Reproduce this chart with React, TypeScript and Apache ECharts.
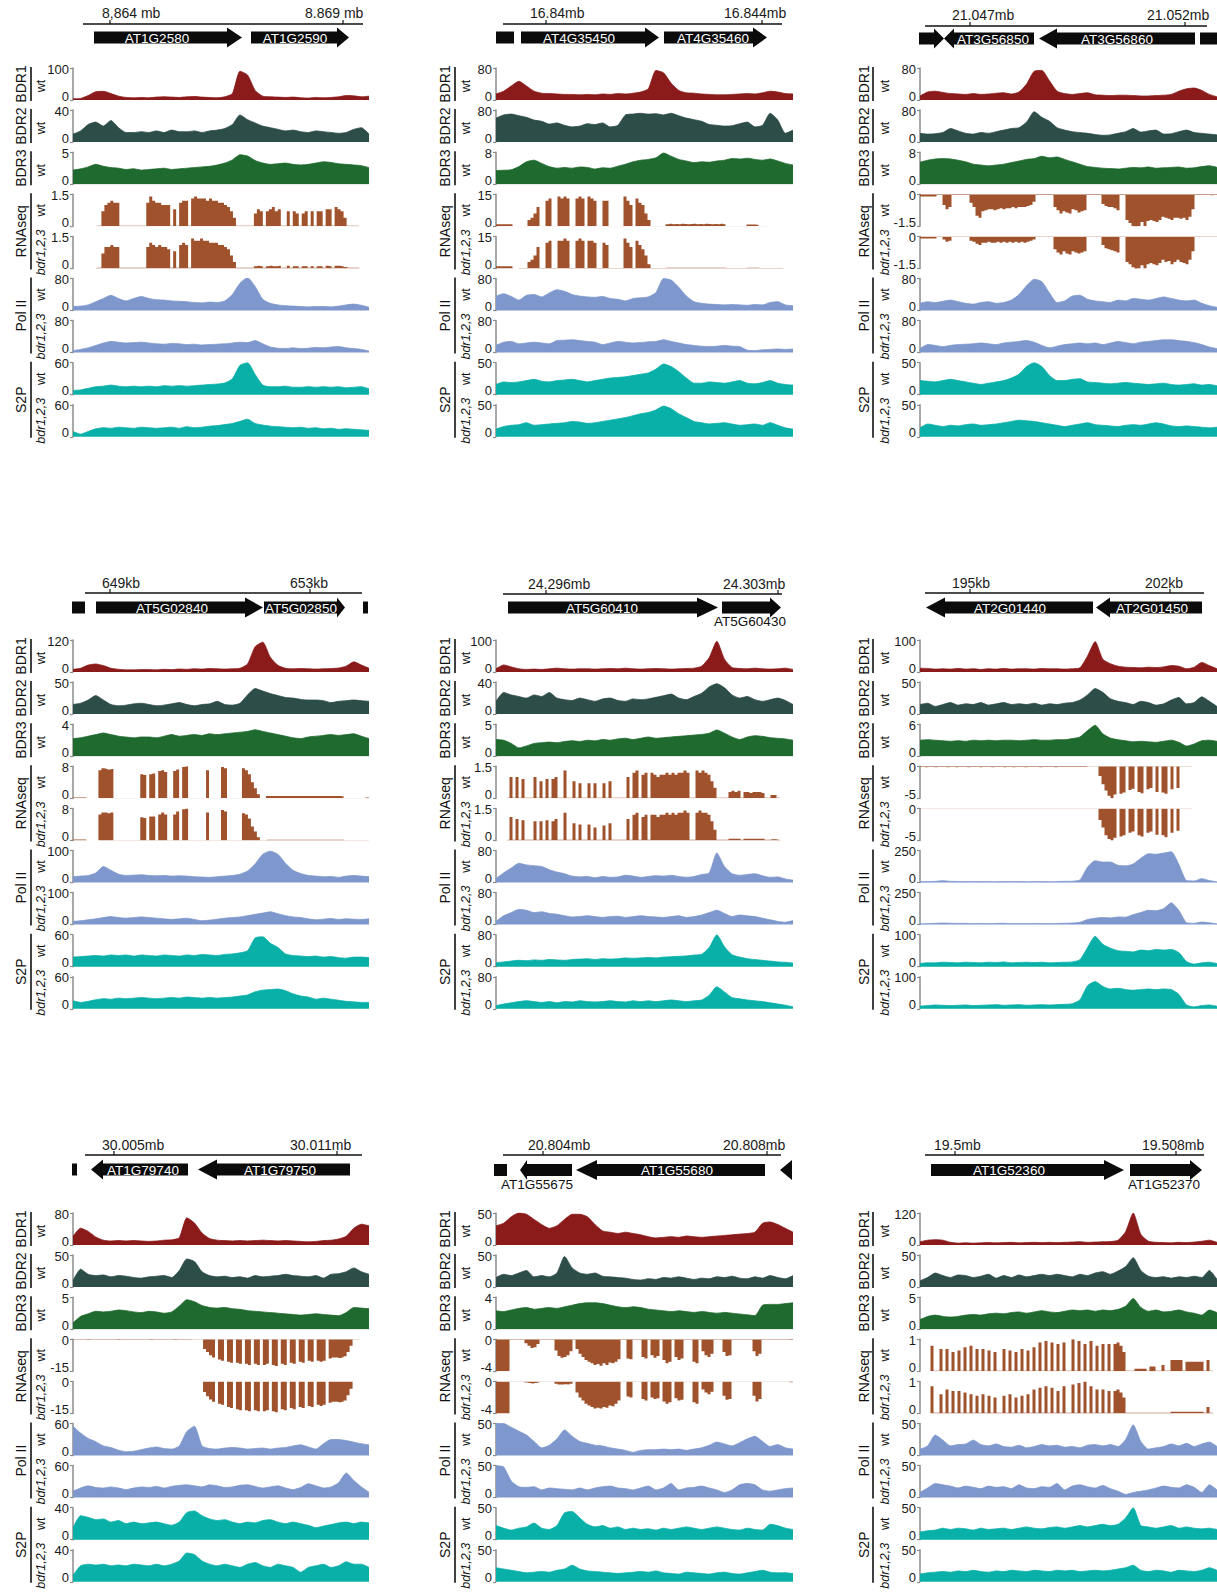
import React, { useEffect, useRef } from 'react';
import * as echarts from 'echarts';

// ================= DATA =================
// Track order in each panel: BDR1 wt, BDR2 wt, BDR3 wt, RNAseq wt, RNAseq bdr1,2,3,
// Pol II wt, Pol II bdr1,2,3, S2P wt, S2P bdr1,2,3

// ---- Panel 1 ----
const P1_BDR1 = [4,5,14,26,27,20,12,8,7,8, 7,9,10,9,8,10,11,9,8,7, 10,20,90,78,30,12,10,9,8,9, 7,6,8,7,8,10,14,13,10,12];
const P1_BDR2 = [10,14,22,25,20,27,18,12,12,13, 12,14,12,15,13,13,14,12,14,15, 17,22,34,28,24,20,18,16,14,15, 13,12,14,13,12,11,12,16,18,10];
const P1_BDR3 = [2.2,2.4,2.7,3.1,2.8,2.6,2.5,2.3,2.4,2.2, 2.3,2.4,2.5,2.3,2.4,2.5,2.6,2.7,2.8,3.0, 3.3,3.8,4.6,4.4,3.7,3.3,3.1,3.2,3.3,3.1, 3.0,3.1,3.3,3.5,3.4,3.2,3.1,3.0,2.9,2.6];
const P1_RNA_WT = [
  0,0,0,0,0,0,0,0,.03,.03,
  .7,1.0,1.1,1.2,1.1,1.1,.03,.03,.03,.03,
  .03,.03,.03,.03,.03,1.1,1.4,1.2,1.1,1.1,
  1.0,1.0,1.0,.03,.8,.03,1.1,1.2,1.2,.03,
  1.3,1.4,1.3,1.3,1.3,1.2,1.3,1.2,1.2,1.1,
  1.1,1.0,.9,.7,.4,.03,.03,.03,.03,.03,
  .03,.6,.8,.7,.03,.7,.8,.9,.7,.8,
  .03,.03,.7,.03,.7,.6,.03,.6,.7,.03,
  .7,.03,.7,.7,.03,.8,.8,.03,.9,.8,
  .7,.4,.03,.03,.03,.03,0,0,0,0];
const P1_RNA_MUT = [
  0,0,0,0,0,0,0,0,.03,.03,
  .7,1.0,1.0,1.1,1.0,1.0,.03,.03,.03,.03,
  .03,.03,.03,.03,.03,1.0,1.2,1.1,1.0,1.1,
  1.0,1.0,.9,.03,.8,.03,1.1,1.2,1.1,.03,
  1.4,1.3,1.3,1.4,1.3,1.3,1.2,1.2,1.2,1.1,
  1.1,1.0,.9,.6,.3,.03,.03,.03,.03,.03,
  .03,.1,.12,.1,.03,.1,.12,.1,.1,.12,
  .03,.03,.12,.03,.1,.1,.03,.1,.1,.03,
  .1,.03,.1,.1,.03,.12,.1,.03,.12,.12,
  .1,.06,.03,.03,.03,.03,0,0,0,0];
const P1_POL_WT = [10,11,14,22,30,38,30,24,30,35, 30,27,26,24,23,22,20,19,21,20, 24,40,68,82,60,28,18,14,12,11, 10,9,10,10,9,11,14,16,13,8];
const P1_POL_MUT = [5,8,12,18,24,28,26,24,25,26, 24,22,21,23,22,20,21,19,20,21, 22,24,26,25,30,22,14,11,10,12, 10,11,13,12,14,15,12,10,8,4];
const P1_S2P_WT = [8,9,12,15,16,18,16,15,16,15, 16,15,17,16,17,16,17,18,19,20, 22,30,55,60,38,18,15,15,16,14, 14,15,14,15,14,15,13,14,15,11];
const P1_S2P_MUT = [10,5,10,15,17,16,18,17,16,18, 17,16,17,18,16,19,17,18,20,21, 23,25,29,33,25,22,20,19,18,17, 18,16,17,15,16,14,15,14,13,12];
const P1_RANGE = [100, 40, 5, 1.5, 1.5, 80, 80, 60, 60];

// ---- Panel 2 ----
const P2_BDR1 = [15,22,35,47,35,22,17,16,15,14, 14,13,14,13,15,14,16,15,17,20, 28,74,68,42,24,18,17,15,14,13, 13,14,15,16,15,18,22,20,16,15];
const P2_BDR2 = [60,68,70,66,62,55,52,45,48,42, 38,40,46,44,48,38,42,68,70,72, 70,71,68,72,66,60,56,52,44,42, 40,41,46,50,38,42,72,55,22,30];
const P2_BDR3 = [3.4,3.5,3.6,4.4,5.6,6.0,5.2,4.4,4.0,4.2, 4.0,4.3,4.2,3.8,4.1,4.0,4.5,5.0,5.6,6.0, 6.2,6.6,7.8,7.0,6.2,5.8,5.4,5.6,5.5,5.8, 6.0,6.4,6.3,6.5,6.2,6.0,6.3,5.8,5.2,4.8];
const P2_RNA_WT = [
  1,1,1,1,1,1,0,0,.15,.15,
  .15,3,4,6,9,.15,.15,12,13,.15,
  .15,14,13,14,13,.15,.15,13,14,13,
  .15,14,13,12,.15,.15,12,12,.15,.15,
  .15,.15,.15,14,12,10,.15,13,11,10,
  6,3,.15,.15,.15,.15,.15,1,1.2,1,
  1.1,1,1.2,1.1,1,1.1,1.2,1,1.1,1,
  1.2,1.1,1,1.1,1,1.2,1,.15,.15,.15,
  .15,.15,.15,.15,.8,.9,.8,.7,.15,.15,
  .15,0,0,0,0,0,0,0,0,0];
const P2_RNA_MUT = [
  1,1,1,1,1,1,0,0,.15,.15,
  .15,3,4,6,10,.15,.15,12,13,.15,
  .15,13,13,14,13,.15,.15,13,14,13,
  .15,13,13,12,.15,.15,12,11,.15,.15,
  .15,.15,.15,14,12,10,.15,13,11,9,
  6,2,.15,.15,.15,.15,.15,.3,.3,.3,
  .3,.3,.3,.3,.3,.3,.3,.3,.3,.3,
  .3,.3,.3,.3,.3,.3,.3,.15,.15,.15,
  .15,.15,.15,.15,.25,.25,.25,.25,.15,.15,
  .15,.15,.15,.15,.15,.15,0,0,0,0];
const P2_POL_WT = [36,42,35,26,38,40,34,44,52,48, 40,36,34,33,35,30,28,24,30,32, 34,45,80,76,58,36,22,18,16,15, 14,15,14,13,15,14,20,22,14,12];
const P2_POL_MUT = [18,26,28,22,24,26,24,22,30,31, 32,30,28,26,20,24,28,26,24,25, 27,28,32,28,24,20,18,16,15,16, 18,16,15,6,5,7,8,9,8,9];
const P2_S2P_WT = [16,20,19,20,22,24,21,20,22,23, 24,22,20,22,24,26,27,28,30,32, 34,40,48,44,36,26,18,18,20,19, 18,20,22,18,17,19,22,18,16,15];
const P2_S2P_MUT = [12,16,18,19,22,18,19,20,21,22, 24,23,21,22,24,26,28,30,33,36, 38,42,48,44,36,30,24,22,20,21, 22,20,18,19,20,18,22,18,14,12];
const P2_RANGE = [80, 80, 8, 15, 15, 80, 80, 50, 50];

// ---- Panel 3 ----
const P3_BDR1 = [10,20,22,19,16,15,14,16,14,15, 17,18,15,20,40,72,74,48,22,16, 14,16,18,13,12,11,12,12,11,10, 10,11,12,14,22,28,30,24,14,8];
const P3_BDR2 = [22,20,21,24,34,28,22,20,24,22, 26,30,34,36,50,76,62,52,36,30, 26,24,22,19,17,18,22,26,34,25, 28,30,20,21,26,30,24,22,20,18];
const P3_BDR3 = [5.5,6.0,6.3,6.4,6.3,6.0,5.6,5.0,4.8,4.6, 4.8,5.0,5.4,5.8,6.2,6.4,7.0,6.6,6.8,6.2, 5.6,5.0,4.4,4.2,4.0,3.9,3.8,4.0,4.2,4.1, 4.3,4.0,4.1,4.2,4.3,4.0,4.1,4.4,4.6,4.2];
const P3_RNA_WT = [
  -.1,-.1,-.1,-.1,-.1,-.1,-.03,-.03,-.5,-.7,
  -.6,-.03,-.03,-.03,-.03,-.03,-.03,-.4,-.6,-1.0,
  -1.1,-.8,-.75,-.7,-.7,-.75,-.7,-.65,-.7,-.65,
  -.65,-.6,-.65,-.6,-.6,-.6,-.55,-.5,-.35,-.03,
  -.03,-.03,-.03,-.03,-.03,-.6,-.75,-.9,-.8,-.85,
  -.9,-.7,-.75,-.85,-.8,-.75,-.03,-.03,-.03,-.03,
  -.03,-.45,-.55,-.6,-.6,-.65,-.75,-.03,-.03,-1.2,
  -1.35,-1.5,-1.6,-1.5,-1.3,-1.5,-1.25,-1.2,-1.25,-1.3,
  -1.2,-1.05,-1.1,-1.15,-1.2,-1.1,-1.1,-1.15,-1.1,-1.2,
  -1.05,-.7,-.03,-.03,-.03,-.03,-.03,-.05,-.03,-.03];
const P3_RNA_MUT = [
  -.1,-.1,-.1,-.1,-.1,-.1,-.03,-.03,-.15,-.25,
  -.2,-.03,-.03,-.03,-.03,-.03,-.03,-.2,-.25,-.35,
  -.4,-.3,-.3,-.25,-.3,-.3,-.25,-.3,-.25,-.3,
  -.25,-.3,-.25,-.3,-.25,-.3,-.25,-.2,-.15,-.03,
  -.03,-.03,-.03,-.03,-.03,-.6,-.75,-.85,-.7,-.8,
  -.85,-.7,-.75,-.8,-.75,-.7,-.03,-.03,-.03,-.03,
  -.03,-.4,-.55,-.6,-.65,-.7,-.75,-.03,-.03,-1.2,
  -1.3,-1.45,-1.55,-1.5,-1.35,-1.5,-1.3,-1.25,-1.3,-1.35,
  -1.25,-1.1,-1.2,-1.15,-1.3,-1.2,-1.1,-1.2,-1.25,-1.3,
  -1.1,-.7,-.03,-.03,-.03,-.03,-.03,-.03,-.03,-.03];
const P3_POL_WT = [18,22,20,23,26,22,18,16,20,22, 18,20,26,40,62,78,72,44,20,24, 36,38,28,24,22,20,26,24,30,28, 26,30,34,30,26,24,26,18,12,8];
const P3_POL_MUT = [10,20,18,15,18,20,21,22,24,22, 20,24,26,28,30,26,18,12,16,20, 22,24,22,24,20,24,28,25,22,26, 28,30,32,32,30,28,25,20,14,10];
const P3_S2P_WT = [22,21,20,22,24,22,20,18,16,18, 20,22,26,32,44,50,44,30,22,22, 24,25,20,19,18,17,18,19,18,17, 16,17,18,16,15,16,17,15,16,14];
const P3_S2P_MUT = [14,20,18,16,18,17,19,20,18,19, 20,22,24,26,25,24,22,20,18,16, 18,20,22,19,18,17,16,18,19,18, 20,22,20,17,16,17,16,15,14,15];
const P3_RANGE = [80, 80, 8, -1.5, -1.5, 80, 80, 50, 50];

// ---- Panel 4 ----
const P4_BDR1 = [10,14,26,30,24,14,10,8,8,9, 9,8,10,9,11,10,12,11,13,12, 11,12,14,30,95,112,55,25,14,12, 13,12,11,12,13,15,22,38,26,14];
const P4_BDR2 = [15,17,22,29,22,15,13,14,16,17, 15,13,14,16,18,15,13,15,16,20, 15,14,17,30,40,36,32,29,26,25, 23,22,22,21,18,20,21,22,21,20];
const P4_BDR3 = [2.2,2.3,2.5,2.7,2.9,2.7,2.5,2.4,2.3,2.4, 2.4,2.3,2.5,2.7,2.5,2.6,2.7,2.6,2.8,2.7, 2.8,2.9,3.0,3.1,3.3,3.1,2.9,2.7,2.5,2.3, 2.2,2.4,2.5,2.6,2.7,2.6,2.7,2.8,2.5,2.2];
const P4_RNA_WT = [
  .2,.2,.2,.2,.2,0,0,0,0,7,
  7.5,7.4,7.2,7.3,.05,.05,.05,.05,.05,.05,
  .05,.05,.05,6,5.8,.05,6,6.2,.05,6.8,
  7,6.6,.05,.05,6.8,7.2,.05,7.8,8,.05,
  .05,.05,.05,.05,.05,7,.05,.05,.05,.05,
  7.8,7.5,.05,.05,.05,.05,.05,7.5,7,6,
  4,2.5,1,.05,.05,.6,.6,.6,.6,.6,
  .6,.6,.6,.6,.6,.6,.6,.6,.6,.6,
  .6,.6,.6,.6,.6,.6,.6,.6,.6,.6,
  .5,.05,.05,.05,.05,.05,.05,.05,.2,.2];
const P4_RNA_MUT = [
  .2,.2,.2,.2,.2,0,0,0,0,6.5,
  7,7,6.8,7,.05,.05,.05,.05,.05,.05,
  .05,.05,.05,5.8,5.6,.05,6,6,.05,6.5,
  7,6.5,.05,.05,6.5,7.2,.05,7.8,8,.05,
  .05,.05,.05,.05,.05,7,.05,.05,.05,.05,
  7.6,7.2,.05,.05,.05,.05,.05,6.8,6.5,5.5,
  3.5,2.2,.8,.05,.05,.15,.15,.15,.15,.15,
  .15,.15,.15,.15,.15,.15,.15,.15,.15,.15,
  .15,.15,.15,.15,.15,.15,.15,.15,.15,.15,
  .15,.05,.05,.05,.05,.05,.05,.05,.05,.05];
const P4_POL_WT = [18,20,22,30,50,38,26,22,23,24, 22,21,22,20,21,20,18,17,16,18, 20,22,26,36,58,88,98,88,60,38, 28,22,20,18,19,16,20,22,20,18];
const P4_POL_MUT = [10,12,15,18,22,25,22,20,22,24, 22,20,18,16,18,20,16,12,14,17, 20,22,24,28,32,36,40,34,28,24, 22,18,15,17,19,16,18,17,16,18];
const P4_S2P_WT = [18,19,20,21,20,22,21,22,20,22, 21,20,22,21,20,22,21,23,22,21, 23,24,26,30,54,56,44,36,24,21, 20,19,20,18,19,17,16,18,18,17];
const P4_S2P_MUT = [15,12,14,17,19,18,20,19,20,21, 20,19,20,21,20,22,21,20,21,20, 21,22,24,26,32,35,36,37,34,28, 24,22,18,20,18,16,14,13,12,12];
const P4_RANGE = [120, 50, 4, 8, 8, 100, 100, 60, 60];

// ---- Panel 5 ----
const P5_BDR1 = [10,22,16,10,8,9,8,10,12,10, 9,10,10,9,10,11,10,12,10,9, 10,11,10,9,10,11,12,18,45,96, 40,14,11,10,12,10,9,10,12,8];
const P5_BDR2 = [16,27,24,22,20,24,22,27,20,18, 17,20,18,16,19,20,17,16,19,18, 19,21,23,25,20,18,22,26,34,38, 33,24,20,22,18,16,18,20,17,12];
const P5_BDR3 = [2.6,2.5,2.0,1.3,1.6,2.0,2.1,2.2,2.1,2.3, 2.4,2.3,2.5,2.4,2.6,2.5,2.7,2.8,2.6,2.8, 3.0,2.8,2.9,3.0,3.1,3.2,3.3,3.4,3.6,4.1, 3.6,3.0,2.6,3.0,3.2,3.1,2.9,2.8,2.7,2.5];
const P5_RNA_WT = [
  0,0,0,0,.03,1.0,.03,1.0,.03,.9,
  .03,.03,.03,1.0,.03,.8,.03,.9,.03,.9,
  1.0,.03,.03,1.3,.03,.03,.8,.03,.7,.03,
  .03,.7,.03,.7,.03,.03,.7,.03,.8,.03,
  .03,.03,.03,.03,1.0,.03,1.2,1.3,.03,1.1,
  1.2,.03,1.2,1.1,1.0,1.1,1.1,1.2,1.1,1.2,
  1.1,1.2,1.2,1.3,1.2,.03,.03,1.3,1.2,1.3,
  1.2,1.1,.8,.5,.03,.03,.03,.03,.3,.35,
  .3,.35,.03,.3,.3,.25,.3,.3,.3,.25,
  .03,.03,.15,.15,.03,0,0,0,0,0];
const P5_RNA_MUT = [
  0,0,0,0,.03,1.1,.03,1.0,.03,.95,
  .03,.03,.03,.9,.03,.9,.03,.95,.03,.9,
  1.0,.03,.03,1.3,.03,.03,.8,.03,.75,.03,
  .03,.75,.03,.6,.03,.03,.7,.03,.8,.03,
  .03,.03,.03,.03,1.0,.03,1.2,1.3,.03,1.1,
  1.2,.03,1.2,1.2,1.1,1.2,1.2,1.3,1.2,1.3,
  1.2,1.3,1.3,1.4,1.3,.03,.03,1.3,1.4,1.3,
  1.3,1.2,.9,.5,.03,.03,.03,.03,.08,.08,
  .08,.08,.03,.08,.08,.08,.08,.08,.08,.08,
  .03,.03,.05,.05,.03,0,0,0,0,0];
const P5_POL_WT = [10,24,36,48,44,42,40,32,26,22, 16,14,15,12,15,13,14,18,16,13, 15,17,16,18,15,13,15,20,24,74, 40,22,18,20,22,17,13,14,9,6];
const P5_POL_MUT = [8,22,30,38,36,30,32,28,26,22, 19,20,22,20,18,20,21,18,20,22, 20,19,18,20,22,18,20,24,30,36, 28,20,24,22,20,16,12,8,6,10];
const P5_S2P_WT = [10,12,14,16,15,17,16,18,17,16, 18,19,20,18,20,19,20,22,21,22, 23,22,24,25,26,27,29,31,48,80, 50,30,24,20,18,16,14,12,11,9];
const P5_S2P_MUT = [8,12,15,18,20,18,16,18,15,18, 17,20,18,17,18,20,18,17,20,18, 20,18,20,22,20,18,20,22,34,55, 42,28,25,22,20,18,15,12,9,5];
const P5_RANGE = [100, 40, 5, 1.5, 1.5, 80, 80, 80, 80];

// ---- Panel 6 ----
const P6_BDR1 = [12,11,9,10,9,11,9,10,8,10, 9,11,9,10,10,9,11,10,10,9, 10,13,50,95,40,26,18,15,14,13, 15,14,16,20,18,10,15,30,20,10];
const P6_BDR2 = [15,17,12,15,18,14,16,15,18,14, 16,18,15,16,15,17,14,16,15,17, 18,22,30,40,34,24,20,18,15,20, 18,14,16,22,26,16,18,27,20,12];
const P6_BDR3 = [3.0,3.1,3.0,2.9,2.8,2.9,2.8,3.0,2.9,3.0, 2.9,3.0,3.0,2.9,3.0,3.1,3.0,3.0,3.1,3.1, 3.3,3.6,4.8,5.8,4.2,3.4,3.1,2.9,2.7,2.8, 2.7,2.6,2.8,3.0,2.6,1.9,2.3,2.9,3.0,2.8];
const P6_RNA_WT = [
  -.1,-.1,-.15,-.1,-.1,-.15,-.1,-.1,-.1,-.15,
  -.1,-.1,-.15,-.1,-.1,-.1,-.15,-.1,-.1,-.1,
  -.15,-.1,-.1,-.1,-.15,-.1,-.1,-.1,-.15,-.1,
  -.1,-.15,-.1,-.1,-.1,-.15,-.1,-.1,-.1,-.1,
  -.15,-.1,-.1,-.1,-.1,-.15,-.1,-.1,-.1,-.1,
  -.1,-.1,-.1,-.1,-.1,-.1,-.05,-.05,-.05,-.05,
  -1.5,-2.8,-3.8,-4.6,-5,-4.4,-.05,-4.3,-4.1,-.05,
  -3.7,-3.5,-.05,-4.0,-4.2,-.05,-3.6,-3.4,-.05,-4.0,
  -.05,-4.1,-4.3,-.05,-3.6,-.05,-3.4,-.05,-.05,-.05,
  -.05,0,0,0,0,0,0,0,0,0];
const P6_RNA_MUT = [
  -.05,-.05,-.05,-.05,-.05,-.05,-.05,-.05,-.05,-.05,
  -.05,-.05,-.05,-.05,-.05,-.05,-.05,-.05,-.05,-.05,
  -.05,-.05,-.05,-.05,-.05,-.05,-.05,-.05,-.05,-.05,
  -.05,-.05,-.05,-.05,-.05,-.05,-.05,-.05,-.05,-.05,
  -.05,-.05,-.05,-.05,-.05,-.05,-.05,-.05,-.05,-.05,
  -.05,-.05,-.05,-.05,-.05,-.05,-.05,-.05,-.05,-.05,
  -1.8,-3.0,-4.2,-4.8,-5,-4.6,-.05,-4.4,-4.2,-.05,
  -3.8,-3.6,-.05,-4.2,-4.4,-.05,-3.8,-3.6,-.05,-4.1,
  -.05,-4.2,-4.5,-.05,-3.8,-.05,-3.5,-.05,-.05,-.05,
  -.05,0,0,0,0,0,0,0,0,0];
const P6_POL_WT = [6,7,9,14,9,8,7,8,7,8, 6,7,8,7,6,8,7,6,8,9, 10,20,120,170,160,160,135,130,145,190, 225,220,230,240,140,15,12,30,15,5];
const P6_POL_MUT = [5,8,10,12,10,9,10,8,9,8, 9,10,8,9,8,9,8,8,9,10, 12,18,40,50,55,52,60,58,78,95, 112,108,125,170,110,15,10,20,14,6];
const P6_S2P_WT = [10,12,12,14,13,12,14,13,12,14, 13,15,12,13,14,13,14,12,13,14, 15,22,60,95,70,58,50,48,46,52, 50,54,52,54,44,16,8,12,14,10];
const P6_S2P_MUT = [8,10,12,11,10,11,12,10,11,12, 13,11,12,13,11,12,13,12,13,14, 16,28,72,85,70,62,64,60,58,60, 62,60,62,60,45,12,6,10,12,8];
const P6_RANGE = [100, 50, 6, -5, -5, 250, 250, 100, 100];

// ---- Panel 7 ----
const P7_BDR1 = [22,42,34,20,12,10,11,10,11,10, 9,10,12,13,18,68,55,30,16,12, 11,10,11,10,11,12,11,10,11,10, 9,8,9,11,12,15,22,42,52,48];
const P7_BDR2 = [10,28,20,18,19,16,18,17,15,14, 16,17,18,15,26,44,40,24,18,16, 17,15,16,14,18,16,17,18,20,18, 17,16,18,14,20,21,24,30,24,20];
const P7_BDR3 = [1.0,2.0,2.4,2.8,2.7,2.8,3.0,2.9,2.7,2.6, 2.8,2.7,2.5,2.7,3.6,4.6,4.3,3.7,3.4,3.3, 3.4,3.2,3.1,2.9,2.8,2.7,2.6,2.5,2.4,2.3, 2.2,2.3,2.4,2.3,2.2,2.1,2.6,3.4,3.3,3.2];
const P7_RNA_WT = [
  -.2,-.2,-.25,-.2,-.2,-.3,-.2,-.2,-.25,-.2,
  -.2,-.25,-.2,-.2,-.2,-.3,-.2,-.2,-.2,-.25,
  -.2,-.2,-.2,-.25,-.2,-.2,-.3,-.2,-.2,-.2,
  -.25,-.2,-.2,-.2,-.3,-.2,-.2,-.25,-.2,-.2,
  -.1,-.1,-.1,-.1,-4.5,-6,-7.5,-8.5,-.1,-9.5,
  -10,-.1,-10.5,-11,-.1,-11,-11.5,-.1,-11.5,-12,
  -.1,-11.5,-12,-.1,-12,-11.5,-.1,-12,-12.5,-.1,
  -11.5,-12,-.1,-11,-11.5,-.1,-10.5,-11,-.1,-10,
  -10.5,-.1,-10,-10.5,-10,-.1,-9,-8.5,-8.5,-8.8,
  -8.5,-8,-6,-3,-.1,-.1,0,0,0,0];
const P7_RNA_MUT = [
  -.1,-.1,-.1,-.1,-.1,-.1,-.1,-.1,-.1,-.1,
  -.1,-.1,-.1,-.1,-.1,-.1,-.1,-.1,-.1,-.1,
  -.1,-.1,-.1,-.1,-.1,-.1,-.1,-.1,-.1,-.1,
  -.1,-.1,-.1,-.1,-.1,-.1,-.1,-.1,-.1,-.1,
  -.1,-.1,-.1,-.1,-5,-7,-8.5,-9.5,-.1,-10.5,
  -11,-.1,-12,-12.5,-.1,-13,-13.5,-.1,-13.5,-14,
  -.1,-13.5,-14,-.1,-14,-13.5,-.1,-14,-14.5,-.1,
  -13,-13.5,-.1,-12.5,-13,-.1,-12,-12.5,-.1,-11.5,
  -12,-.1,-11,-11.5,-11,-.1,-10,-9.5,-9.5,-9.8,
  -9.5,-9,-6.5,-3.5,-.1,-.1,0,0,0,0];
const P7_POL_WT = [55,42,32,26,18,15,10,7,8,11, 14,16,13,12,18,45,55,18,13,12, 14,15,14,12,13,14,12,14,15,18, 20,16,12,22,30,30,28,25,22,20];
const P7_POL_MUT = [12,18,22,19,18,20,18,15,18,20, 19,21,18,21,23,24,22,20,24,22, 19,20,23,24,21,18,20,22,18,15, 19,26,22,18,20,28,46,32,20,10];
const P7_S2P_WT = [15,30,28,25,26,22,24,20,22,20, 21,22,20,18,22,34,36,30,26,24, 25,22,20,22,21,24,25,22,20,22, 20,18,15,17,19,21,22,20,22,21];
const P7_S2P_MUT = [8,20,22,21,22,20,21,20,22,21, 20,22,20,22,26,36,34,26,22,20, 22,20,18,22,24,20,18,22,20,18, 12,18,20,22,18,20,25,22,22,18];
const P7_RANGE = [80, 50, 5, -15, -15, 60, 60, 40, 40];

// ---- Panel 8 ----
const P8_BDR1 = [30,34,44,50,48,40,32,26,30,40, 48,48,44,32,22,20,18,20,18,16, 13,11,12,13,12,14,13,12,13,14, 15,16,17,18,20,34,36,32,26,20];
const P8_BDR2 = [15,20,18,22,26,16,18,16,22,48, 30,22,20,22,17,16,15,14,12,11, 13,12,15,14,16,14,12,14,13,16, 15,17,14,13,16,14,18,15,13,18];
const P8_BDR3 = [2.3,2.2,2.4,2.6,2.7,2.5,2.6,2.7,2.6,2.8, 3.0,3.2,3.3,3.3,3.2,3.0,2.8,2.7,2.8,2.7, 2.5,2.4,2.3,2.2,2.3,2.2,2.1,2.2,2.1,2.0, 2.1,2.0,1.9,1.8,1.7,3.0,3.1,3.1,3.2,3.3];
const P8_RNA_WT = [
  -4,-4,-4,-4,-4,-.05,-.05,-.05,-.05,-.05,
  -.5,-.8,-1.1,-1.0,-.6,-.05,-.05,-.05,-.05,-.05,
  -1.4,-2.1,-2.3,-2.2,-2.0,-1.5,-.05,-1.2,-1.8,-2.2,
  -2.6,-2.8,-3.0,-3.2,-3.1,-3.3,-3.0,-3.2,-2.9,-3.0,
  -2.8,-2.5,-.05,-.05,-2.4,-2.5,-.05,-.05,-.05,-2.2,
  -2.4,-.05,-2.0,-2.3,-2.1,-.05,-2.6,-3.0,-2.8,-.05,
  -2.2,-2.6,-2.4,-.05,-.05,-.05,-2.8,-3.0,-.05,-1.5,
  -2.0,-2.2,-1.8,-.05,-.05,-.05,-1.6,-2.1,-2.0,-.05,
  -.05,-.05,-.05,-.05,-.05,-.05,-1.5,-2.1,-1.8,-.05,
  -.05,-.05,-.05,-.05,-.05,-.05,-.05,-.05,-.1,-.1];
const P8_RNA_MUT = [
  -4,-4,-4,-4,-4,-.05,-.05,-.05,-.05,-.05,
  -.15,-.2,-.25,-.2,-.15,-.05,-.05,-.05,-.05,-.05,
  -.3,-.4,-.4,-.35,-.4,-.3,-.05,-1.4,-2.0,-2.4,
  -2.8,-3.0,-3.2,-3.4,-3.3,-3.4,-3.2,-3.3,-3.0,-3.1,
  -2.8,-2.4,-.05,-.05,-1.9,-2.0,-.05,-.05,-.05,-2.2,
  -2.4,-.05,-2.0,-2.2,-2.1,-.05,-2.5,-2.8,-2.6,-.05,
  -2.1,-2.4,-2.3,-.05,-.05,-.05,-2.6,-2.8,-.05,-1.0,
  -1.4,-1.6,-1.3,-.05,-.05,-.05,-1.8,-2.3,-2.2,-.05,
  -.05,-.05,-.05,-.05,-.05,-.05,-1.8,-2.5,-2.2,-.05,
  -.05,-.05,-.05,-.05,-.05,-.05,-.05,-.05,-.1,-.1];
const P8_POL_WT = [50,50,44,38,32,22,12,16,26,40, 30,22,19,16,15,12,10,8,5,8, 9,9,10,9,10,8,10,12,16,21, 18,15,20,26,30,22,14,17,12,10];
const P8_POL_MUT = [50,48,26,17,16,17,12,15,14,13, 12,15,12,15,17,18,15,14,12,15, 18,12,15,22,12,15,16,18,15,12, 8,12,20,22,20,12,10,12,14,15];
const P8_S2P_WT = [22,18,15,18,20,26,18,16,22,42, 44,34,24,20,22,18,20,16,18,16, 17,15,18,16,18,20,18,16,18,20, 18,16,15,18,16,15,24,22,18,16];
const P8_S2P_MUT = [22,20,18,16,14,15,16,15,18,20, 26,20,17,16,15,14,13,14,15,16, 15,17,14,13,12,15,14,13,12,14, 15,13,12,14,16,18,15,14,14,13];
const P8_RANGE = [50, 50, 4, -4, -4, 50, 50, 50, 50];

// ---- Panel 9 ----
const P9_BDR1 = [12,18,20,18,10,7,8,7,8,9, 8,9,10,8,9,10,9,10,9,10, 11,12,10,11,12,13,18,50,120,40, 14,10,9,8,10,9,11,14,18,10];
const P9_BDR2 = [10,15,22,18,15,19,18,15,17,20, 14,18,15,19,16,18,20,18,20,18, 16,20,18,22,24,20,25,32,46,26, 17,15,16,14,16,15,17,15,26,12];
const P9_BDR3 = [1.5,2.0,2.2,2.0,1.9,2.0,2.2,2.3,2.2,2.4, 2.5,2.4,2.6,2.7,2.5,2.7,2.9,2.7,2.6,2.8, 3.0,2.9,3.0,2.8,3.0,2.9,3.1,3.6,4.8,3.4, 2.8,3.0,2.7,2.8,3.0,2.7,2.5,2.2,3.0,2.6];
const P9_RNA_WT = [
  0,0,0,0,.8,.02,.02,.7,.02,.7,
  .02,.6,.02,.65,.02,.75,.02,.8,.02,.7,
  .02,.7,.02,.65,.02,.6,.02,.02,.7,.02,
  .65,.02,.6,.02,.7,.02,.65,.02,.75,.02,
  .9,.02,.95,.02,.9,.02,.85,.02,.9,.02,
  .02,1.0,.02,.95,.02,.85,.02,.95,.02,.8,
  .02,.85,.02,.85,.02,.85,.9,.8,.6,.02,
  .02,.02,.08,.08,.08,.08,.02,.15,.15,.02,
  .02,.2,.02,.02,.35,.35,.35,.35,.02,.3,
  .3,.3,.3,.3,.3,.02,.35,.02,0,0];
const P9_RNA_MUT = [
  0,0,0,0,.85,.02,.02,.6,.02,.75,
  .02,.7,.02,.7,.02,.65,.02,.6,.02,.55,
  .02,.6,.02,.55,.02,.5,.02,.02,.55,.02,
  .6,.02,.5,.02,.55,.02,.6,.02,.75,.02,
  .8,.02,.85,.02,.8,.02,.7,.02,.85,.02,
  .02,.9,.02,.95,.02,1.0,.02,.85,.02,.75,
  .02,.75,.02,.7,.02,.7,.75,.65,.5,.02,
  .02,.02,.02,.02,.02,.02,.02,.02,.02,.02,
  .02,.02,.02,.02,.05,.05,.05,.05,.05,.05,
  .05,.05,.05,.05,.05,.02,.2,.02,0,0];
const P9_POL_WT = [10,15,32,24,15,17,18,24,17,15, 18,14,13,16,12,14,17,15,16,13, 14,12,16,17,15,17,14,25,48,22, 10,12,14,18,15,19,14,18,21,14];
const P9_POL_MUT = [8,15,22,20,18,15,18,16,14,18, 16,17,14,20,15,14,17,16,22,12, 18,20,17,15,19,14,10,5,8,10, 12,15,18,16,15,20,16,8,20,12];
const P9_S2P_WT = [12,14,15,18,16,18,17,15,18,16, 17,18,16,18,20,18,17,19,20,18, 20,22,20,22,24,22,24,34,50,22, 20,18,20,22,18,20,18,17,18,16];
const P9_S2P_MUT = [12,14,15,16,15,17,16,18,16,15, 17,16,18,17,16,18,17,16,18,17, 18,16,17,18,17,18,20,22,26,18, 16,18,17,15,18,17,16,18,22,18];
const P9_RANGE = [120, 50, 5, 1, 1, 50, 50, 50, 50];

// ---- labels ----
const SCALE_LABELS = [
  ['8,864 mb', '8.869 mb'], ['16.84mb', '16.844mb'], ['21.047mb', '21.052mb'],
  ['649kb', '653kb'], ['24.296mb', '24.303mb'], ['195kb', '202kb'],
  ['30.005mb', '30.011mb'], ['20.804mb', '20.808mb'], ['19.5mb', '19.508mb'],
];
const GROUP_NAMES = ['BDR1', 'BDR2', 'BDR3', 'RNAseq', 'Pol II', 'S2P'];
const GENOTYPES = ['wt', 'bdr1,2,3'];

// ================= LAYOUT / STYLE =================
const FONT = '"Liberation Sans", Arial, Helvetica, sans-serif';
const COLORS = ['#8b1a1a', '#2d4d49', '#1f6a2f', '#a0522d', '#a0522d', '#7e97cd', '#7e97cd', '#08b0a8', '#08b0a8'];
const COL_LEFT = [73, 496, 920];
const COL_WIDTH = [296, 297, 297];
const ROW_TOP = [0, 572, 1145];
const TRACK_Y0 = 68;
const TRACK_PITCH = 42.1;
const TRACK_H = 32;
const LABEL_OFF = [[52, 42, 32], [51, 41, 30], [56, 47, 35]];
const GROUPS: [number, number][] = [[0, 0], [1, 1], [2, 2], [3, 4], [5, 6], [7, 8]];

const SCALE_LAYOUT = [
  { x1: 83, x2: 363, y: 24, ly: 13, ticks: [[102, 110], [305, 343]] },
  { x1: 503, x2: 782, y: 24, ly: 13, ticks: [[530, 546], [724, 762]] },
  { x1: 925, x2: 1207, y: 26, ly: 15, ticks: [[952, 970], [1147, 1185]] },
  { x1: 85, x2: 362, y: 593, ly: 583, ticks: [[102, 110], [290, 310]] },
  { x1: 503, x2: 782, y: 594, ly: 584, ticks: [[528, 546], [723, 778]] },
  { x1: 925, x2: 1204, y: 593, ly: 583, ticks: [[952, 970], [1145, 1170]] },
  { x1: 85, x2: 362, y: 1155, ly: 1145, ticks: [[102, 114], [290, 337]] },
  { x1: 503, x2: 781, y: 1155, ly: 1145, ticks: [[528, 543], [723, 767]] },
  { x1: 925, x2: 1204, y: 1155, ly: 1145, ticks: [[934, 955], [1142, 1176]] },
];

type Gene = { k: 'r' | 'l' | 'box'; a: number; b: number; c?: number; n?: string; lx?: number; below?: boolean };
const GENE_LAYOUT: { yc: number; genes: Gene[] }[] = [
  { yc: 37.5, genes: [
    { k: 'r', a: 94, b: 227, c: 242, n: 'AT1G2580', lx: 157 },
    { k: 'r', a: 251, b: 337, c: 349, n: 'AT1G2590', lx: 295 } ] },
  { yc: 37.5, genes: [
    { k: 'box', a: 496, b: 514 },
    { k: 'r', a: 521, b: 645, c: 659, n: 'AT4G35450', lx: 579 },
    { k: 'r', a: 664, b: 753, c: 767, n: 'AT4G35460', lx: 713 } ] },
  { yc: 38.5, genes: [
    { k: 'r', a: 919, b: 934, c: 944 },
    { k: 'l', a: 944, b: 954, c: 1034, n: 'AT3G56850', lx: 993 },
    { k: 'l', a: 1039, b: 1057, c: 1195, n: 'AT3G56860', lx: 1117 },
    { k: 'box', a: 1200, b: 1217 } ] },
  { yc: 607.5, genes: [
    { k: 'box', a: 72, b: 85 },
    { k: 'r', a: 96, b: 245, c: 263, n: 'AT5G02840', lx: 172 },
    { k: 'r', a: 264, b: 337, c: 345, n: 'AT5G02850', lx: 301 },
    { k: 'box', a: 363, b: 368 } ] },
  { yc: 607.5, genes: [
    { k: 'r', a: 508, b: 697, c: 718, n: 'AT5G60410', lx: 602 },
    { k: 'r', a: 722, b: 770, c: 781, n: 'AT5G60430', lx: 750, below: true } ] },
  { yc: 607.5, genes: [
    { k: 'l', a: 926, b: 945, c: 1093, n: 'AT2G01440', lx: 1010 },
    { k: 'l', a: 1096, b: 1110, c: 1202, n: 'AT2G01450', lx: 1152 } ] },
  { yc: 1169.5, genes: [
    { k: 'box', a: 72, b: 77 },
    { k: 'l', a: 91, b: 103, c: 188, n: 'AT1G79740', lx: 143 },
    { k: 'l', a: 198, b: 217, c: 350, n: 'AT1G79750', lx: 280 } ] },
  { yc: 1170, genes: [
    { k: 'box', a: 494, b: 507 },
    { k: 'l', a: 520, b: 527, c: 572, n: 'AT1G55675', lx: 537, below: true },
    { k: 'l', a: 576, b: 597, c: 765, n: 'AT1G55680', lx: 677 },
    { k: 'l', a: 780, b: 792, c: 792 } ] },
  { yc: 1170, genes: [
    { k: 'r', a: 931, b: 1104, c: 1124, n: 'AT1G52360', lx: 1009 },
    { k: 'r', a: 1130, b: 1190, c: 1202, n: 'AT1G52370', lx: 1164, below: true } ] },
];

const PANEL_TRACKS = [
  [P1_BDR1, P1_BDR2, P1_BDR3, P1_RNA_WT, P1_RNA_MUT, P1_POL_WT, P1_POL_MUT, P1_S2P_WT, P1_S2P_MUT],
  [P2_BDR1, P2_BDR2, P2_BDR3, P2_RNA_WT, P2_RNA_MUT, P2_POL_WT, P2_POL_MUT, P2_S2P_WT, P2_S2P_MUT],
  [P3_BDR1, P3_BDR2, P3_BDR3, P3_RNA_WT, P3_RNA_MUT, P3_POL_WT, P3_POL_MUT, P3_S2P_WT, P3_S2P_MUT],
  [P4_BDR1, P4_BDR2, P4_BDR3, P4_RNA_WT, P4_RNA_MUT, P4_POL_WT, P4_POL_MUT, P4_S2P_WT, P4_S2P_MUT],
  [P5_BDR1, P5_BDR2, P5_BDR3, P5_RNA_WT, P5_RNA_MUT, P5_POL_WT, P5_POL_MUT, P5_S2P_WT, P5_S2P_MUT],
  [P6_BDR1, P6_BDR2, P6_BDR3, P6_RNA_WT, P6_RNA_MUT, P6_POL_WT, P6_POL_MUT, P6_S2P_WT, P6_S2P_MUT],
  [P7_BDR1, P7_BDR2, P7_BDR3, P7_RNA_WT, P7_RNA_MUT, P7_POL_WT, P7_POL_MUT, P7_S2P_WT, P7_S2P_MUT],
  [P8_BDR1, P8_BDR2, P8_BDR3, P8_RNA_WT, P8_RNA_MUT, P8_POL_WT, P8_POL_MUT, P8_S2P_WT, P8_S2P_MUT],
  [P9_BDR1, P9_BDR2, P9_BDR3, P9_RNA_WT, P9_RNA_MUT, P9_POL_WT, P9_POL_MUT, P9_S2P_WT, P9_S2P_MUT],
];
const PANEL_RANGES = [P1_RANGE, P2_RANGE, P3_RANGE, P4_RANGE, P5_RANGE, P6_RANGE, P7_RANGE, P8_RANGE, P9_RANGE];

// ================= BUILD =================
function text(x: number, y: number, s: string, o: any = {}) {
  const font = `${o.italic ? 'italic ' : ''}${o.size || 13}px ${FONT}`;
  const align = o.align || 'center';
  return {
    type: 'text', x, y, rotation: o.rot || 0, silent: true, z: 10,
    style: {
      text: s, fill: o.fill || '#111', font,
      textAlign: align, align, textVerticalAlign: 'middle', verticalAlign: 'middle',
    },
  };
}
function seg(x1: number, y1: number, x2: number, y2: number, w = 1.5, color = '#111') {
  return { type: 'line', silent: true, z: 10, shape: { x1, y1, x2, y2 }, style: { stroke: color, lineWidth: w } };
}

function buildOption() {
  const grid: any[] = [], xAxis: any[] = [], yAxis: any[] = [], series: any[] = [];
  const elements: any[] = [];
  const BH = 6, HH = 10;

  PANEL_TRACKS.forEach((tracks, p) => {
    const col = p % 3, row = Math.floor(p / 3);
    const L = COL_LEFT[col];
    const trackTop = (i: number) => ROW_TOP[row] + TRACK_Y0 + TRACK_PITCH * i;

    tracks.forEach((data, i) => {
      const idx = p * 9 + i;
      const r = PANEL_RANGES[p][i];
      const isRna = i === 3 || i === 4;
      const minV = r < 0 ? r : 0;
      const maxV = r < 0 ? 0 : r;
      grid.push({ left: L, top: trackTop(i), width: COL_WIDTH[col], height: TRACK_H });
      xAxis.push({ gridIndex: idx, type: 'category', data: data.map((_, k) => k), boundaryGap: false, show: false });
      yAxis.push({
        gridIndex: idx, type: 'value',
        min: minV, max: maxV, interval: Math.abs(r),
        axisLine: { show: true, lineStyle: { color: '#8c8c8c', width: 1.5 } },
        axisTick: { show: true, length: 3, lineStyle: { color: '#8c8c8c', width: 1.2 } },
        axisLabel: {
          show: true, margin: 4,
          formatter: (v: number) => (Math.abs(v - minV) < 1e-9 ? `{lo|${v}}` : `{hi|${v}}`),
          rich: {
            lo: { fontSize: 13, color: '#1a1a1a', fontFamily: FONT, padding: [0, 0, 8, 0] },
            hi: { fontSize: 13, color: '#1a1a1a', fontFamily: FONT, padding: [2, 0, 0, 0] },
          },
        },
        splitLine: { show: false },
      });
      series.push({
        type: 'line', xAxisIndex: idx, yAxisIndex: idx, data, symbol: 'none', silent: true,
        smooth: isRna ? false : 0.2,
        step: isRna ? 'middle' : false,
        lineStyle: { width: isRna ? 0 : 0.8, color: COLORS[i] },
        areaStyle: { color: COLORS[i], opacity: 1 },
        itemStyle: { color: COLORS[i] },
        clip: true,
      });
    });

    // left labels
    const [o0, o1, o2] = LABEL_OFF[col];
    GROUPS.forEach(([from, to], g) => {
      const y0 = trackTop(from) - 1;
      const y1 = trackTop(to) + TRACK_H + 1;
      const cy = (y0 + y1) / 2;
      elements.push(text(L - o0, cy, GROUP_NAMES[g], { size: 14, rot: Math.PI / 2 }));
      elements.push(seg(L - o1, y0, L - o1, y1, 1.6));
      if (from === to) {
        elements.push(text(L - o2, cy + 2, GENOTYPES[0], { size: 12.5, rot: Math.PI / 2 }));
      } else {
        elements.push(text(L - o2, trackTop(from) + TRACK_H / 2, GENOTYPES[0], { size: 12.5, rot: Math.PI / 2 }));
        elements.push(text(L - o2, trackTop(to) + TRACK_H / 2, GENOTYPES[1], { size: 12.5, rot: Math.PI / 2, italic: true }));
      }
    });

    // scale bar
    const sc = SCALE_LAYOUT[p];
    elements.push(seg(sc.x1, sc.y, sc.x2, sc.y, 1.6));
    sc.ticks.forEach(([lx, tx], k) => {
      elements.push(seg(tx, sc.y - 4, tx, sc.y, 1.2));
      elements.push(text(lx, sc.ly, SCALE_LABELS[p][k], { size: 14, align: 'left', fill: '#1a1a1a' }));
    });

    // genes
    const gl = GENE_LAYOUT[p];
    const yc = gl.yc;
    gl.genes.forEach((g) => {
      let pts: number[][];
      if (g.k === 'box') {
        pts = [[g.a, yc - BH], [g.b, yc - BH], [g.b, yc + BH], [g.a, yc + BH]];
      } else if (g.k === 'r') {
        pts = [[g.a, yc - BH], [g.b, yc - BH], [g.b, yc - HH], [g.c!, yc], [g.b, yc + HH], [g.b, yc + BH], [g.a, yc + BH]];
      } else {
        pts = [[g.a, yc], [g.b, yc - HH], [g.b, yc - BH], [g.c!, yc - BH], [g.c!, yc + BH], [g.b, yc + BH], [g.b, yc + HH]];
      }
      elements.push({ type: 'polygon', silent: true, z: 5, shape: { points: pts }, style: { fill: '#0b0b0b' } });
      if (g.n) {
        if (g.below) elements.push(text(g.lx!, yc + 14, g.n, { size: 13.5, fill: '#111' }));
        else elements.push(text(g.lx!, yc + 0.5, g.n, { size: 13.5, fill: '#ffffff' }));
      }
    });
  });

  return {
    animation: false,
    backgroundColor: '#ffffff',
    textStyle: { fontFamily: FONT },
    grid, xAxis, yAxis, series,
    graphic: { elements },
  };
}

export default function App() {
  const ref = useRef<HTMLDivElement>(null);
  useEffect(() => {
    if (!ref.current) return;
    const chart = echarts.init(ref.current, null, { renderer: 'svg' });
    chart.setOption(buildOption() as any);
    return () => chart.dispose();
  }, []);
  return (
    <div
      ref={ref}
      style={{ position: 'absolute', left: 0, top: 0, width: 1217, height: 1592, background: '#ffffff' }}
    />
  );
}
